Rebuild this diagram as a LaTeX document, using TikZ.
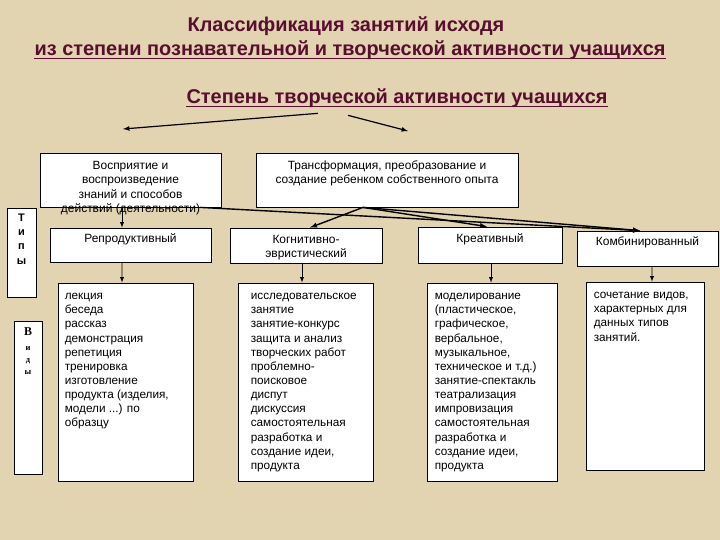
\documentclass[tikz,border=0pt]{standalone}
\usepackage{fontspec}
\setmainfont{Liberation Sans}
\newfontfamily\titlefont{Liberation Sans Bold}
\newfontfamily\vidfont{Liberation Serif}
\usepackage{xcolor}
\usetikzlibrary{positioning}
\definecolor{parchment}{RGB}{226,211,177}
\definecolor{maroon}{RGB}{88,14,46}

\begin{document}
\begin{tikzpicture}[x=1bp, y=-1bp,
    every node/.style={inner sep=0pt},
    box/.style={draw=black, fill=white, line width=0.8bp},
    boxtext/.style={font=\fontsize{12}{14.3}\selectfont, align=center},
    listtext/.style={font=\fontsize{11.8}{14.2}\selectfont, align=left},
    title/.style={font=\titlefont\fontsize{20}{22}\selectfont, text=maroon, anchor=base},
    titleline/.style={maroon, line width=1.4bp},
    arr/.style={-latex, line width=0.9bp},
    slant/.style={-latex, line width=1.4bp}]
            \fill[parchment] (0,0) rectangle (720,540);
            \useasboundingbox (0,0) rectangle (720,540);
            % titles
            \node[title] (t1) at (346,32) {Классификация занятий исходя};
            \node[title] (t2) at (350,56) {из степени познавательной и творческой активности учащихся};
            \node[title] (deg) at (397,104) {Степень творческой активности учащихся};
            \draw[titleline] ([yshift=-2.5bp]t2.base west) -- ([yshift=-2.5bp]t2.base east);
            \draw[titleline] ([yshift=-2.5bp]deg.base west) -- ([yshift=-2.5bp]deg.base east);
            \coordinate (tipL) at (123,129);
            \coordinate (tipR) at (408,131);
            \draw[-latex, line width=1.2bp] ([xshift=-79bp, yshift=-5bp]deg.south) -- (tipL);
            \draw[-latex, line width=1.2bp] ([xshift=-49bp, yshift=-7bp]deg.south) -- (tipR);
            % activity boxes
            \node[box, minimum width=181bp, minimum height=54bp] (perc) at (130.5,180) {};
            \node[box, minimum width=262bp, minimum height=54bp] (trans) at (387,180) {};
            \node[boxtext, below=8.5bp of perc.north] (percT) {Восприятие и\\воспроизведение\\знаний и способов\\действий (деятельности)};
            \node[boxtext, below=8bp of trans.north] (transT) {Трансформация, преобразование и\\создание ребенком собственного опыта};
            % types
            \node[box, minimum width=29bp, minimum height=89bp] (types) at (21.5,252.5) {};
            \node[align=center, font=\bfseries\fontsize{11}{14.3}\selectfont, below=6bp of types.north] (typesT) {Т\\и\\п\\ы};
            \node[box, minimum width=161bp, minimum height=34bp] (rep) at (130.5,245) {};
            \node[box, minimum width=152bp, minimum height=35bp] (kog) at (306,245.5) {};
            \node[box, minimum width=144bp, minimum height=36bp] (kre) at (490,245) {};
            \node[box, minimum width=141bp, minimum height=35bp] (kom) at (647.5,248.5) {};
            \node[boxtext, below=6bp of rep.north] (repT) {Репродуктивный};
            \node[boxtext, below=7.5bp of kog.north] (kogT) {Когнитивно-\\эвристический};
            \node[boxtext, below=7bp of kre.north] (kreT) {Креативный};
            \node[boxtext, below=6bp of kom.north] (komT) {Комбинированный};
            % kinds
            \node[box, minimum width=28bp, minimum height=153bp] (vid) at (28,397.5) {};
            \node[align=center, font=\vidfont\bfseries, below=7bp of vid.north] (vidT)
                {\fontsize{12}{15}\selectfont В\\[3bp]\fontsize{8.5}{11}\selectfont и\\\fontsize{8.5}{11}\selectfont д\\\fontsize{8.5}{11}\selectfont ы};
            \node[box, minimum width=135bp, minimum height=198bp] (repL) at (125.5,382) {};
            \node[box, minimum width=135bp, minimum height=198bp] (kogL) at (305.5,382) {};
            \node[box, minimum width=130bp, minimum height=198bp] (kreL) at (492,382) {};
            \node[box, minimum width=118bp, minimum height=188bp] (komL) at (645,376) {};
            \node[listtext, below right=10.5bp and 7bp of repL.north west] (repLT)
                {лекция\\беседа\\рассказ\\демонстрация\\репетиция\\тренировка\\изготовление\\продукта (изделия,\\модели ...) по\\образцу};
            \node[listtext, below right=10.5bp and 13bp of kogL.north west] (kogLT)
                {исследовательское\\занятие\\занятие-конкурс\\защита и анализ\\творческих работ\\проблемно-\\поисковое\\диспут\\дискуссия\\самостоятельная\\разработка и\\создание идеи,\\продукта};
            \node[listtext, below right=10.5bp and 8bp of kreL.north west] (kreLT)
                {моделирование\\(пластическое,\\графическое,\\вербальное,\\музыкальное,\\техническое и т.д.)\\занятие-спектакль\\театрализация\\импровизация\\самостоятельная\\разработка и\\создание идеи,\\продукта};
            \node[listtext, below right=10.5bp and 8bp of komL.north west] (komLT)
                {сочетание видов,\\характерных для\\данных типов\\занятий.};
            % connectors
            \draw[arr] ([xshift=-8.5bp]perc.south) -- ([xshift=-8.5bp]rep.north);
            \draw[slant] ([xshift=-24bp]trans.south) -- ([xshift=4bp]kog.north);
            \draw[slant] ([xshift=-24bp]trans.south) -- ([xshift=-3bp]kre.north);
            \draw[slant] ([xshift=-24bp]trans.south) -- ([xshift=-7.5bp]kom.north);
            \draw[slant] ([xshift=-21bp]perc.south east) -- ([xshift=-7.5bp]kom.north);
            \draw[arr] ([xshift=-8.5bp]rep.south) -- ([xshift=-3.5bp]repL.north);
            \draw[arr] ([xshift=-4bp]kog.south) -- ([xshift=-3.5bp]kogL.north);
            \draw[arr] ([xshift=1bp]kre.south) -- ([xshift=-1bp]kreL.north);
            \draw[arr] ([xshift=4.5bp]kom.south) -- ([xshift=7bp]komL.north);
\end{tikzpicture}
\end{document}
